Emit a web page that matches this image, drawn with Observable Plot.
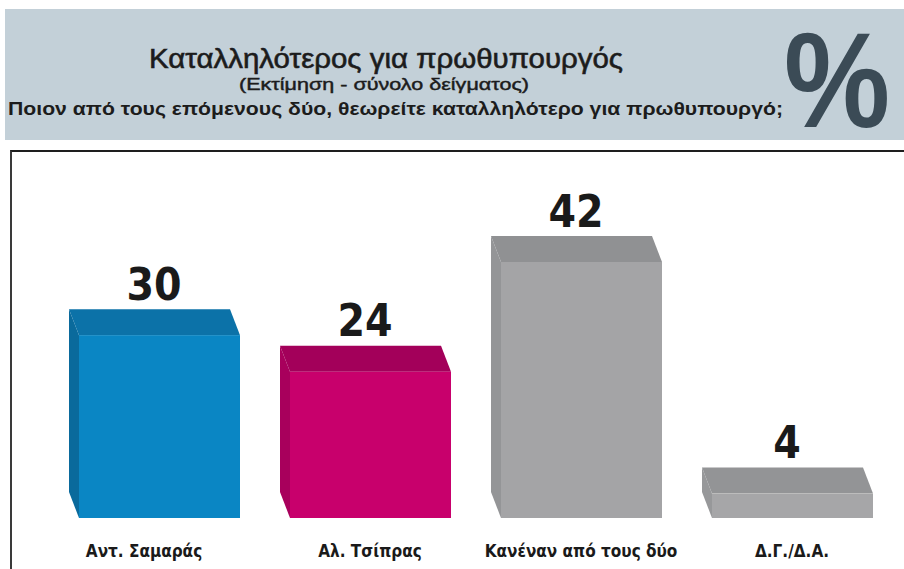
<!DOCTYPE html>
<html>
<head>
<meta charset="utf-8">
<script src="https://cdn.jsdelivr.net/npm/d3@7"></script>
<script src="https://cdn.jsdelivr.net/npm/@observablehq/plot@0.6"></script>
<style>
  html, body { margin: 0; padding: 0; background: #fff; }
  body { width: 904px; height: 569px; overflow: hidden; position: relative; }
  #header { position: absolute; left: 0; top: 0; }
  #chart { position: absolute; left: 0; top: 148px; }
  #frame { position: absolute; left: 10px; top: 150px; width: 894px; height: 419px;
           border-top: 2px solid #1e1e1e; border-left: 2px solid #3a3a3a; box-sizing: border-box;
           pointer-events: none; }
</style>
</head>
<body>
<svg id="header" width="904" height="175" xmlns="http://www.w3.org/2000/svg">
  <rect x="5" y="9" width="899" height="131" fill="#c3d0d8"></rect>
  <text x="386" y="68" text-anchor="middle" font-family="'Liberation Sans', Arial, sans-serif"
        font-size="28" fill="#1c1c1c" stroke="#1c1c1c" stroke-width="0.6"
        textLength="474" lengthAdjust="spacingAndGlyphs">Καταλληλότερος για πρωθυπουργός</text>
  <text x="384" y="90" text-anchor="middle" font-family="'Liberation Sans', Arial, sans-serif"
        font-size="17" fill="#1c1c1c" stroke="#1c1c1c" stroke-width="0.45"
        textLength="290" lengthAdjust="spacingAndGlyphs">(Εκτίμηση - σύνολο δείγματος)</text>
  <text x="8" y="115" font-family="'Liberation Sans', Arial, sans-serif" font-weight="bold"
        font-size="18" fill="#1c1c1c" textLength="775" lengthAdjust="spacingAndGlyphs">Ποιον από τους επόμενους δύο, θεωρείτε καταλληλότερο για πρωθυπουργό;</text>
  <text x="890" y="127" text-anchor="end" font-family="'Liberation Sans', Arial, sans-serif" font-weight="bold"
        font-size="136" fill="#3b4b56" textLength="106" lengthAdjust="spacingAndGlyphs">%</text>
</svg>
<div id="chart"></div>
<div id="frame"></div>
<script>
// ---- data ----
const categories = ["Αντ. Σαμαράς", "Αλ. Τσίπρας", "Κανέναν από τους δύο", "Δ.Γ./Δ.Α."];
const values = [30, 24, 42, 4];

// ---- styles ----
const frontColors = ["#0a86c4", "#c8006c", "#a4a4a6", "#a6a6a8"];
const topColors   = ["#0c72a8", "#a3005a", "#909193", "#939496"];
const sideColors  = ["#0a6a9c", "#a8005c", "#949597", "#97989a"];
const DX = 10, DY = 26;
const numFont = "'Liberation Sans Narrow', 'DejaVu Sans Condensed', sans-serif";

const data = categories.map((c, i) => ({cat: c, value: values[i], i}));

// 3D faces (top + left side) drawn through Plot's scales
const faces = (index, scales) => {
  const {x, y} = scales;
  const bw = x.bandwidth();
  const base = y(0);
  const g = d3.create("svg:g");
  data.forEach(d => {
    const x0 = x(d.cat), x1 = x0 + bw, yt = y(d.value);
    g.append("path")
      .attr("d", `M${x0},${yt}L${x0 - DX},${yt - DY}L${x0 - DX},${base - DY}L${x0},${base}Z`)
      .attr("fill", sideColors[d.i]);
    g.append("path")
      .attr("d", `M${x0},${yt}L${x1},${yt}L${x1 - DX},${yt - DY}L${x0 - DX},${yt - DY}Z`)
      .attr("fill", topColors[d.i]);
  });
  return g.node();
};

const labelStyle = {
  text: "cat", dy: 38, lineAnchor: "bottom",
  fontSize: 17, fontWeight: "bold", fontFamily: numFont, fill: "#1a1a1a"
};

const chart = Plot.plot({
  width: 904,
  height: 421,
  x: {domain: categories, range: [53, 900], paddingInner: 0.235, paddingOuter: 0.1175, axis: null},
  y: {domain: [0, 42], range: [370, 114], axis: null},
  color: {domain: categories, range: frontColors},
  style: {background: "transparent", overflow: "visible"},
  marks: [
    faces,
    Plot.barY(data, {x: "cat", y: "value", fill: "cat"}),
    Plot.text(data, {
      x: "cat", y: "value", text: d => String(d.value),
      dx: -6, dy: -36, lineAnchor: "bottom",
      fontSize: 44, fontWeight: "bold", fontFamily: numFont, fill: "#1a1a1a"
    }),
    Plot.text(data.slice(0, 1), {...labelStyle, x: "cat", y: () => 0, dx: -16}),
    Plot.text(data.slice(1), {...labelStyle, x: "cat", y: () => 0, dx: -1})
  ]
});
document.getElementById("chart").appendChild(chart);
</script>
</body>
</html>
